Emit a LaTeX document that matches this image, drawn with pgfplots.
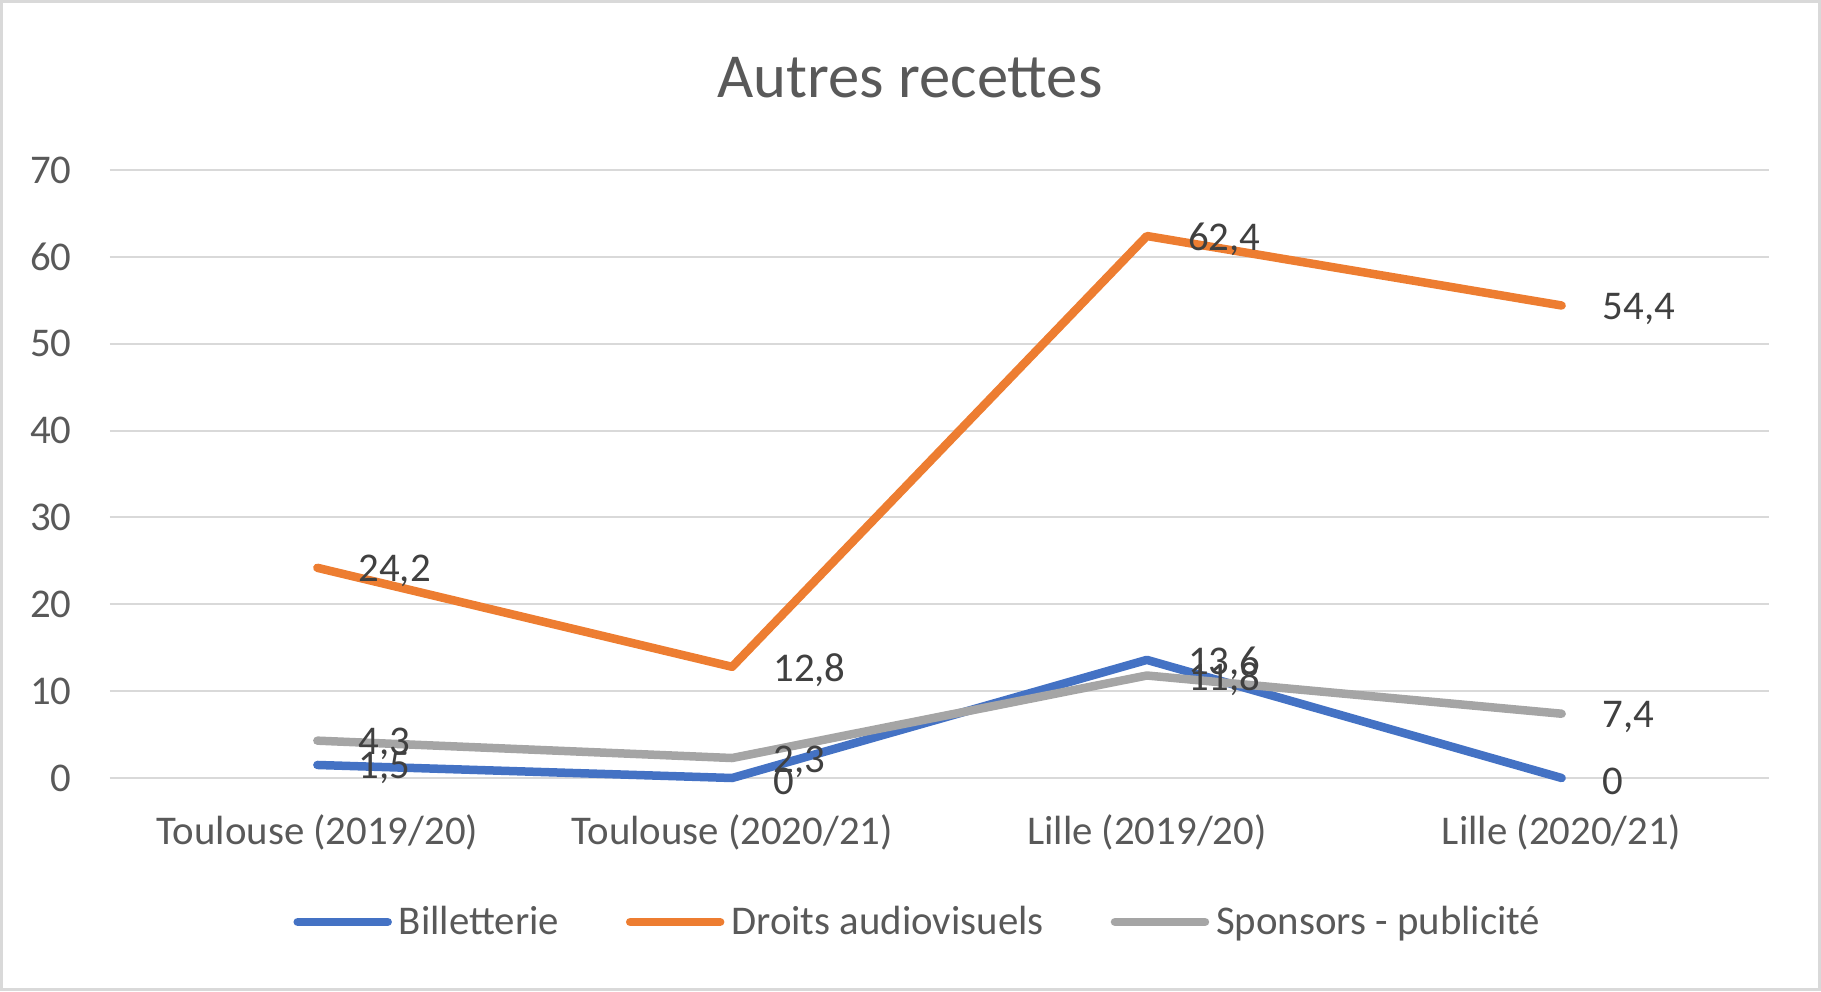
\documentclass[border=0pt]{standalone}
\usepackage{fontspec}
\setmainfont{Carlito}
\usepackage{pgfplots}
\pgfplotsset{compat=1.18}

\definecolor{cblue}{HTML}{4472C4}
\definecolor{corange}{HTML}{ED7D31}
\definecolor{cgrey}{HTML}{A5A5A5}
\definecolor{gridgrey}{HTML}{D9D9D9}
\definecolor{txt}{HTML}{595959}
\definecolor{lbl}{HTML}{404040}

\begin{document}
\begin{tikzpicture}
\begin{axis}[
  at={(0,0)}, anchor=south west,
  scale only axis,
  width=829.5pt, height=304pt,
  xmin=-0.5, xmax=3.5,
  ymin=0, ymax=70,
  ytick={0,10,20,30,40,50,60,70},
  xtick=data,
  xticklabels={Toulouse (2019/20),Toulouse (2020/21),Lille (2019/20),Lille (2020/21)},
  axis line style={draw=none},
  major tick length=0pt,
  ymajorgrids=true,
  grid style={color=gridgrey, line width=1pt},
  clip=false,
  font=\fontsize{20.4pt}{24pt}\selectfont,
  /pgf/number format/assume math mode=true,
  /pgf/number format/use comma,
  ticklabel style={color=txt, inner sep=0pt},
  yticklabel style={anchor=east, xshift=-19pt},
  xticklabel style={anchor=center, yshift=-27pt},
  title={Autres recettes},
  title style={at={(0.4822,1.132)}, anchor=center, color=txt,
    font=\fontsize{31.3pt}{36pt}\selectfont},
  every axis plot/.append style={line width=4.25pt, line cap=round, line join=round},
  nodes near coords,
  every node near coord/.append style={anchor=west, xshift=18.5pt, yshift=-1.75pt,
    inner sep=0pt, color=lbl, font=\fontsize{20.4pt}{24pt}\selectfont},
  legend columns=-1,
  legend style={draw=none, fill=none, at={(0.4864,-0.2368)}, anchor=center,
    font=\fontsize{20.4pt}{24pt}\selectfont, text=txt,
    nodes={inner sep=0pt, anchor=west},
    /tikz/every odd column/.style={column sep=3.5pt},
    /tikz/every even column/.style={column sep=33.5pt}},
  legend image code/.code={\draw[#1, line width=4.25pt, line cap=round] (0pt,0pt) -- (45pt,0pt);},
]
\addplot[color=cblue] coordinates {(0,1.5) (1,0) (2,13.6) (3,0)};
\addlegendentry{Billetterie}
\addplot[color=corange] coordinates {(0,24.2) (1,12.8) (2,62.4) (3,54.4)};
\addlegendentry{Droits audiovisuels}
\addplot[color=cgrey] coordinates {(0,4.3) (1,2.3) (2,11.8) (3,7.4)};
\addlegendentry{Sponsors - publicité}
\end{axis}
\draw[color=gridgrey, line width=1.5pt] (-54.25pt,-105.75pt) rectangle (854.75pt,388.25pt);
\end{tikzpicture}
\end{document}
